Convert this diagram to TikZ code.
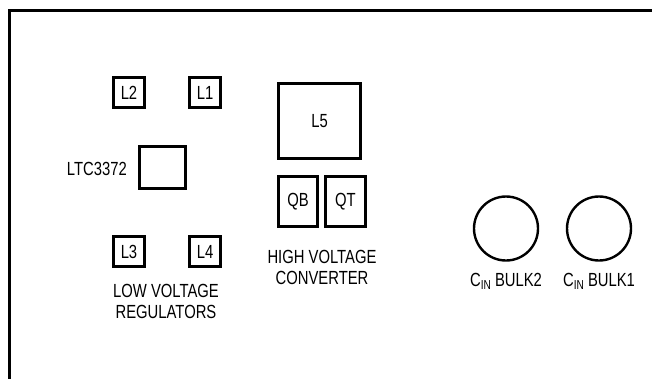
\documentclass[tikz,border=0pt]{standalone}
\usepackage{fontspec}
\setmainfont{Liberation Sans}[FakeStretch=0.78]
\begin{document}
\begin{tikzpicture}[x=1pt,y=-1pt,
  every node/.style={font=\fontsize{19}{21}\selectfont, inner sep=0pt},
  partbox/.style={draw, line width=2.8pt, rectangle},
  smallpart/.style={partbox, minimum width=31pt, minimum height=30pt},
  bulkcap/.style={draw, line width=2.4pt, circle, minimum size=64pt},
  lbl/.style={align=center}]
\useasboundingbox (0,0) rectangle (652,378);
\draw[line width=3pt] (9,380) -- (9,10) -- (654,10);
% low voltage regulators
\node[smallpart] (L2) at (129,92.5) {L2};
\node[smallpart] (L1) at (205,92.5) {L1};
\node[partbox, minimum width=46pt, minimum height=42pt] (IC) at (162.5,167.5) {};
\node[anchor=east] (ICl) at (127,169) {LTC3372};
\node[smallpart] (L3) at (129,251.5) {L3};
\node[smallpart] (L4) at (205,251.5) {L4};
\node[lbl] (LV) at (166,301) {LOW VOLTAGE\\REGULATORS};
% high voltage converter
\node[partbox, minimum width=82pt, minimum height=75pt] (L5) at (319.5,121) {L5};
\node[partbox, minimum width=39pt, minimum height=50pt] (QB) at (298,201.5) {QB};
\node[partbox, minimum width=40pt, minimum height=50pt] (QT) at (345.5,201.5) {QT};
\node[lbl] (HV) at (322,267) {HIGH VOLTAGE\\CONVERTER};
% bulk caps
\node[bulkcap] (C2) at (506,228.5) {};
\node[bulkcap] (C1) at (599,228.5) {};
\node (C2l) at (506,281) {C\raisebox{-3pt}{\fontsize{13}{14}\selectfont IN} BULK2};
\node (C1l) at (599,281) {C\raisebox{-3pt}{\fontsize{13}{14}\selectfont IN} BULK1};
\end{tikzpicture}
\end{document}
